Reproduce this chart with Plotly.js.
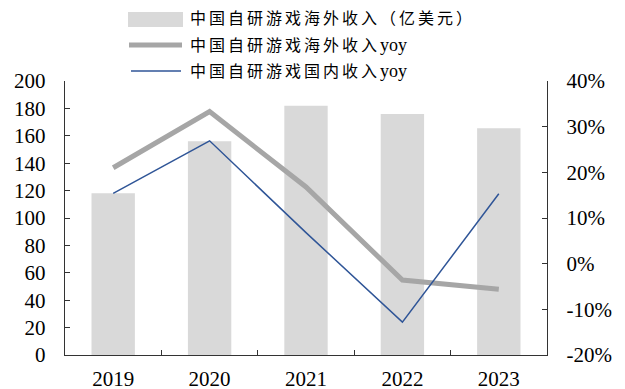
<!DOCTYPE html>
<html><head><meta charset="utf-8">
<script src="https://cdn.plot.ly/plotly-3.0.1.min.js"></script>
<style>html,body{margin:0;padding:0;background:#fff}</style>
</head><body><div id="chart" style="width:625px;height:389px"></div>
<script>
const years = ['2019', '2020', '2021', '2022', '2023'];
const overseasRevenue = [118, 156, 182, 176, 165.5];
const overseasYoy = [0.21, 0.333, 0.168, -0.036, -0.056];
const domesticYoy = [0.154, 0.269, 0.068, -0.128, 0.153];
const leftTicks = [0, 20, 40, 60, 80, 100, 120, 140, 160, 180, 200];
const rightTicks = [-0.2, -0.1, 0, 0.1, 0.2, 0.3, 0.4];
const rightTickText = ['-20%', '-10%', '0%', '10%', '20%', '30%', '40%'];
const legendLabels = ['中国自研游戏海外收入（亿美元）', '中国自研游戏海外收入', '中国自研游戏国内收入'];
const legendSuffix = ['', 'yoy', 'yoy'];

const W = 625, H = 389, L = 65, R = 78, T = 81, B = 34;
const pw = W - L - R, ph = H - T - B;
const fx = x => (x - L) / pw;
const fy = y => (H - B - y) / ph;

const barColor = '#d9d9d9', grayLine = '#a6a6a6', blueLine = '#2f5597', axisColor = '#333333';
const fontFam = 'Liberation Serif, Noto Sans CJK SC, serif';

const traces = [
  {type: 'bar', x: years, y: overseasRevenue, width: 0.45, marker: {color: barColor}, name: legendLabels[0], hoverinfo: 'skip'},
  {type: 'scatter', mode: 'lines', x: years, y: overseasYoy, yaxis: 'y2', line: {color: grayLine, width: 5}, name: legendLabels[1] + legendSuffix[1]},
  {type: 'scatter', mode: 'lines', x: years, y: domesticYoy, yaxis: 'y2', line: {color: blueLine, width: 1.5}, name: legendLabels[2] + legendSuffix[2]}
];

const rowsY = [19, 45, 71];
const shapes = [
  {type: 'rect', xref: 'paper', yref: 'paper', x0: fx(128), x1: fx(183), y0: fy(27), y1: fy(12), fillcolor: barColor, line: {width: 0}},
  {type: 'line', xref: 'paper', yref: 'paper', x0: fx(129), x1: fx(182), y0: fy(rowsY[1]), y1: fy(rowsY[1]), line: {color: grayLine, width: 5}},
  {type: 'line', xref: 'paper', yref: 'paper', x0: fx(131), x1: fx(181), y0: fy(rowsY[2]), y1: fy(rowsY[2]), line: {color: blueLine, width: 1.5}}
];
const annotations = legendLabels.map((t, i) => ({
  xref: 'paper', yref: 'paper', x: fx(188), y: fy(rowsY[i]), xanchor: 'left', yanchor: 'middle', showarrow: false,
  text: '<span style="letter-spacing:3px">' + t + '</span>' + (legendSuffix[i] ? '<span style="font-size:18px">' + legendSuffix[i] + '</span>' : ''),
  font: {family: fontFam, size: 16, color: '#000'}
}));

const tickFont = {family: fontFam, size: 21, color: '#000'};
const layout = {
  width: W, height: H,
  margin: {l: L, r: R, t: T, b: B, pad: 0},
  paper_bgcolor: '#fff', plot_bgcolor: '#fff',
  showlegend: false,
  font: {family: fontFam},
  xaxis: {type: 'category', range: [-0.5, 4.5], showline: true, linecolor: axisColor, linewidth: 1.3, ticks: 'inside', tickson: 'boundaries', ticklen: 5, tickcolor: axisColor, tickfont: tickFont, showgrid: false, zeroline: false, ticklabelstandoff: 4},
  yaxis: {range: [0, 200], tickmode: 'array', tickvals: leftTicks, ticktext: leftTicks.map(String), showline: true, linecolor: axisColor, linewidth: 1.3, ticks: 'inside', ticklen: 5, tickcolor: axisColor, tickfont: tickFont, showgrid: false, zeroline: false, ticklabelstandoff: 14},
  yaxis2: {overlaying: 'y', side: 'right', range: [-0.2, 0.4], tickmode: 'array', tickvals: rightTicks, ticktext: rightTickText, showline: true, linecolor: axisColor, linewidth: 1.3, ticks: 'inside', ticklen: 5, tickcolor: axisColor, tickfont: tickFont, showgrid: false, zeroline: false, ticklabelstandoff: 14},
  shapes: shapes,
  annotations: annotations
};

Plotly.newPlot('chart', traces, layout, {displayModeBar: false, staticPlot: true});
</script></body></html>
